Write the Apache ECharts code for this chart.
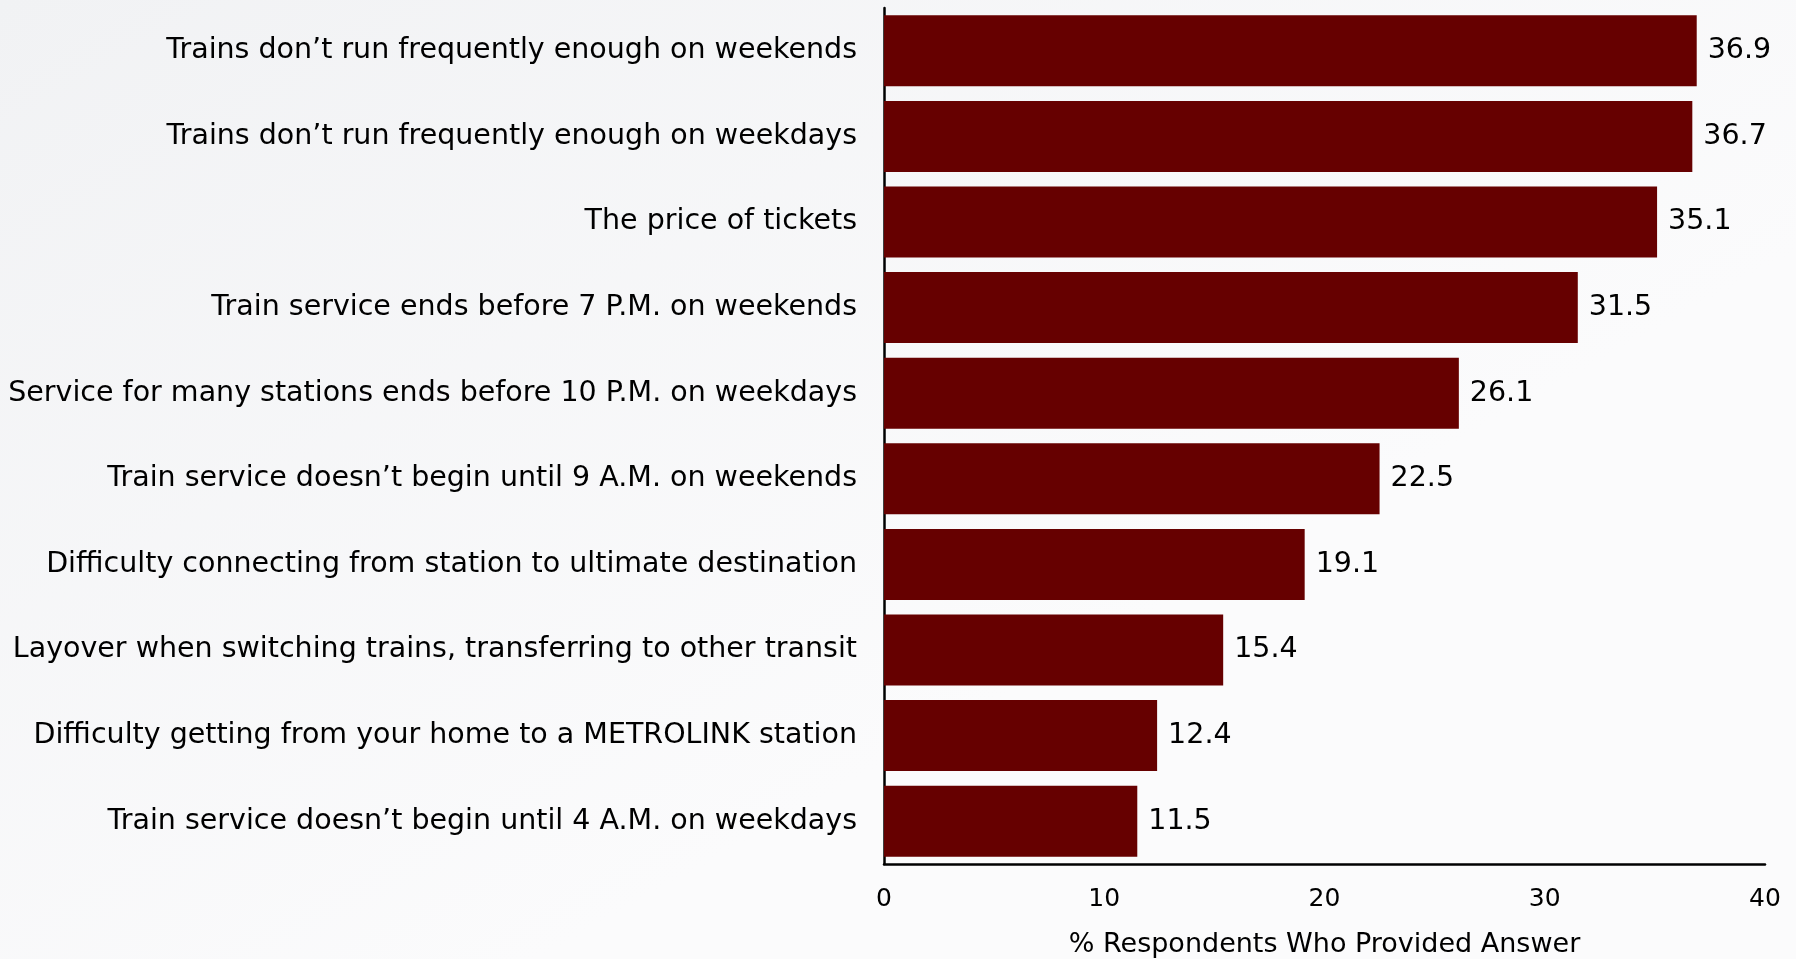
<!DOCTYPE html>
<html>
<head>
<meta charset="utf-8">
<script src="https://cdn.jsdelivr.net/npm/echarts@6/dist/echarts.min.js"></script>
<style>
  html, body { margin: 0; padding: 0; }
  #chart { width: 1796px; height: 959px; }
</style>
</head>
<body>
<div id="chart"></div>
<script>
// Reasons respondents gave for not riding more often
const categories = [
  'Trains don\u2019t run frequently enough on weekends',
  'Trains don\u2019t run frequently enough on weekdays',
  'The price of tickets',
  'Train service ends before 7 P.M. on weekends',
  'Service for many stations ends before 10 P.M. on weekdays',
  'Train service doesn\u2019t begin until 9 A.M. on weekends',
  'Difficulty connecting from station to ultimate destination',
  'Layover when switching trains, transferring to other transit',
  'Difficulty getting from your home to a METROLINK station',
  'Train service doesn\u2019t begin until 4 A.M. on weekdays'
];
const percents = [36.9, 36.7, 35.1, 31.5, 26.1, 22.5, 19.1, 15.4, 12.4, 11.5];
const axisTitle = '% Respondents Who Provided Answer';

const FONT = '"DejaVu Sans", sans-serif';

const chart = echarts.init(document.getElementById('chart'));
chart.setOption({
  backgroundColor: {
    type: 'linear', x: 0, y: 0, x2: 0.3, y2: 1,
    colorStops: [
      { offset: 0, color: '#f1f2f4' },
      { offset: 1, color: '#fbfbfc' }
    ]
  },
  animation: false,
  grid: {
    left: 884, right: 31, top: 8, bottom: 95,
    containLabel: false,
    outerBoundsMode: 'none'
  },
  xAxis: {
    type: 'value',
    min: 0, max: 40, interval: 10,
    axisLine: { show: true, lineStyle: { color: '#000', width: 2.5 } },
    axisTick: { show: false },
    splitLine: { show: false },
    axisLabel: { color: '#000', fontSize: 25, margin: 23, fontFamily: FONT },
    name: axisTitle,
    nameLocation: 'middle',
    nameGap: 67,
    nameTextStyle: { color: '#000', fontSize: 27, fontFamily: FONT }
  },
  yAxis: {
    type: 'category',
    data: categories,
    inverse: true,
    axisLine: { show: true, lineStyle: { color: '#000', width: 2.5 } },
    axisTick: { show: false },
    axisLabel: { color: '#000', fontSize: 28.5, margin: 27, fontFamily: FONT }
  },
  series: [{
    type: 'bar',
    data: percents,
    barCategoryGap: '17%',
    itemStyle: { color: '#660000' },
    label: {
      show: true, position: 'right', distance: 11,
      color: '#000', fontSize: 28.5, fontFamily: FONT
    }
  }]
});
</script>
</body>
</html>
